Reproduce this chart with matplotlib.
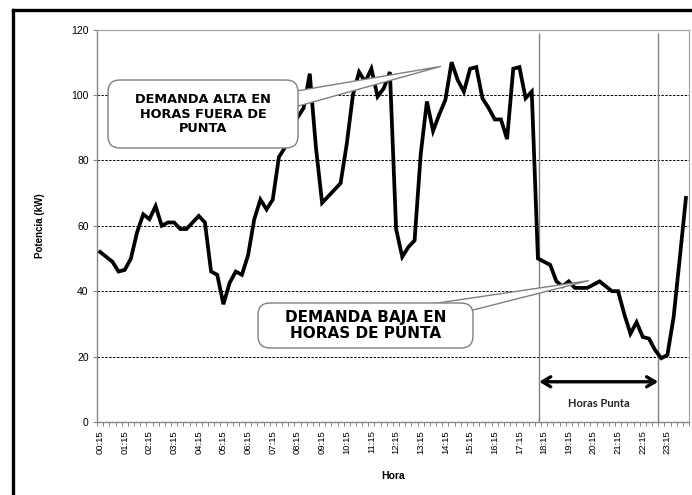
import matplotlib
matplotlib.use("Agg")
import matplotlib.pyplot as plt
from matplotlib.patches import FancyBboxPatch
from matplotlib.lines import Line2D

# Demand every 15 minutes, starting at 00:15 (kW)
potencia = [
    52, 50.5, 49, 46, 46.5, 50, 58, 63.5, 62, 66, 60, 61,
    61, 59, 59, 61, 63, 61, 46, 45, 36, 42.5, 46, 45,
    51, 62, 68, 65, 68, 81, 84, 92.5, 93, 96, 106.5, 84,
    67, 69, 71, 73, 85, 100, 107, 104, 108, 99.5, 102, 107,
    59, 50.5, 53.5, 55.5, 82, 98, 89, 94, 98.5, 110, 104.5, 101,
    108, 108.5, 99, 96, 92.5, 92.5, 86.5, 108, 108.5, 99, 101, 50,
    49, 48, 43, 41.5, 43, 41, 41, 41, 42, 43, 41.5, 40,
    40, 33, 27, 30.5, 26, 25.5, 22, 19.5, 20.5, 32, 50, 68.5,
]
horas = ["%02d:%02d" % divmod(15 + 15 * i, 60) for i in range(len(potencia))]
etiquetas = [h for h in horas if h.endswith(":15")]
y_ticks = [0, 20, 40, 60, 80, 100, 120]

# peak-hours window (category positions)
inicio_punta = 71.2
fin_punta = 90.5

fig = plt.figure(figsize=(6.92, 4.95), dpi=100)
ax = fig.add_axes([97 / 692, 1 - 422 / 495, (689 - 97) / 692, (422 - 29.5) / 495])

x = list(range(len(potencia)))
ax.plot(x, potencia, color="black", lw=2.7, solid_joinstyle="miter", zorder=3)

ax.set_xlim(-0.5, len(potencia) - 0.5)
ax.set_ylim(0, 120)
ax.set_yticks(y_ticks)
ax.set_yticklabels([str(v) for v in y_ticks], fontsize=7.5, family="Liberation Sans")
ax.tick_params(axis="y", length=3, width=0.8, color="#868686", pad=3)

ax.set_xticks([i for i, h in enumerate(horas) if h.endswith(":15")])
ax.set_xticklabels(etiquetas, rotation=90, fontsize=6.8, family="Liberation Sans")
ax.set_xticks([i - 0.5 for i in range(len(potencia) + 1)], minor=True)
ax.tick_params(axis="x", which="major", length=0, pad=6)
ax.tick_params(axis="x", which="minor", length=3, width=0.7, color="#868686")

for v in y_ticks[1:-1]:
    ax.axhline(v, color="black", lw=0.7, ls=(0, (2.5, 1.5)), zorder=1)

for s in ["left", "bottom"]:
    ax.spines[s].set_color("#868686")
    ax.spines[s].set_linewidth(1.0)
for s in ["top", "right"]:
    ax.spines[s].set_color("#a6a6a6")
    ax.spines[s].set_linewidth(0.9)

ax.vlines([inicio_punta, fin_punta], 0, 119, color="#808080", lw=1.0, zorder=2)

ax.set_ylabel("Potencia (kW)", fontsize=7, fontweight="bold", family="Liberation Sans", labelpad=19)
ax.set_xlabel("Hora", fontsize=7.5, fontweight="bold", family="Liberation Sans", labelpad=12)

# double arrow for peak hours
ax.annotate("", xy=(inicio_punta, 12.3), xytext=(fin_punta, 12.3),
            arrowprops=dict(arrowstyle="<->,head_length=0.5,head_width=0.3", lw=2.4,
                            color="black", shrinkA=0, shrinkB=0, mutation_scale=12))
ax.text((inicio_punta + fin_punta) / 2, 5.8, "Horas Punta", ha="center", va="center",
        fontsize=8, fontweight="bold", family="Lato", color="#262626")

# callouts
def callout(texto, caja, centro, punta, ancho, size):
    ax.annotate("", xy=punta, xytext=centro, zorder=4,
                arrowprops=dict(arrowstyle="wedge,tail_width=%.2f,shrink_factor=0.5" % ancho,
                                fc="white", ec="#7f7f7f", lw=1.0, mutation_scale=10,
                                shrinkA=0, shrinkB=0))
    x0, y0, w, h = caja
    box = FancyBboxPatch((x0 / 100, (495 - y0 - h) / 100), w / 100, h / 100,
                         boxstyle="round,pad=0,rounding_size=0.12",
                         transform=fig.dpi_scale_trans, fc="white", ec="#7f7f7f",
                         lw=1.0, zorder=5)
    fig.add_artist(box)
    fig.text((x0 + w / 2) / 692, 1 - (y0 + h / 2) / 495, texto, ha="center", va="center",
             fontsize=size, fontweight="bold", family="DejaVu Sans",
             linespacing=1.15, zorder=6)

callout("DEMANDA ALTA EN\nHORAS FUERA DE\nPUNTA", (108, 80, 190, 68),
        (16.8, 92.5), (55.2, 108.7), 1.8, 9.3)
callout("DEMANDA BAJA EN\nHORAS DE PUNTA", (258, 303, 215, 45),
        (43.2, 29.6), (79.2, 43.2), 1.66, 11)

# outer frame (cut off on the right and bottom)
fig.add_artist(Line2D([13 / 692, 13 / 692], [0, 1 - 10 / 495], color="black", lw=2.4,
                      transform=fig.transFigure, solid_capstyle="projecting"))
fig.add_artist(Line2D([13 / 692, 1], [1 - 10 / 495, 1 - 10 / 495], color="black", lw=2.4,
                      transform=fig.transFigure, solid_capstyle="projecting"))

fig.savefig("out.png", dpi=100)
